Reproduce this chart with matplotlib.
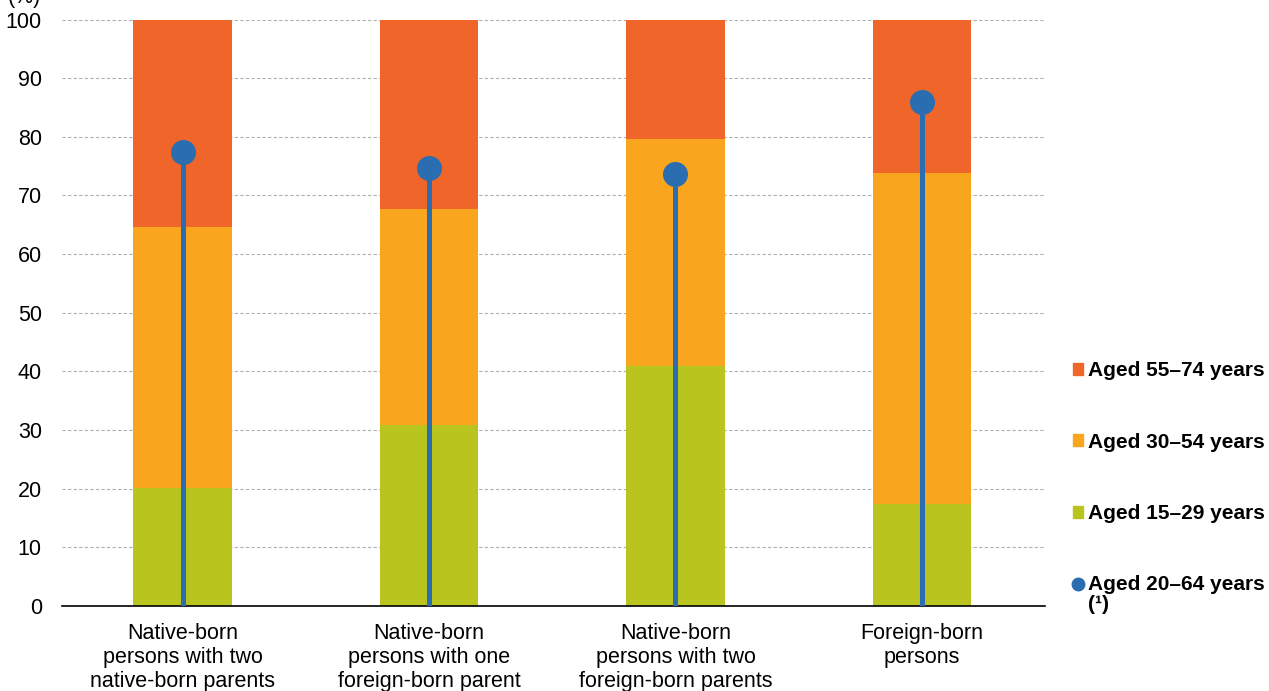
import numpy as np
import matplotlib.pyplot as plt
from matplotlib.patches import Patch
from matplotlib.lines import Line2D

plt.rcParams['font.family'] = ['Liberation Sans', 'DejaVu Sans']

groups = ['Native-born\npersons with two\nnative-born parents',
          'Native-born\npersons with one\nforeign-born parent',
          'Native-born\npersons with two\nforeign-born parents',
          'Foreign-born\npersons']
aged_15_29 = [20.2, 30.9, 40.9, 17.4]
aged_30_54 = [44.4, 36.8, 38.7, 56.4]
aged_55_74 = [35.4, 32.3, 20.4, 26.2]
aged_20_64 = [77.4, 74.7, 73.7, 86.0]

c_green = '#b9c41f'
c_yellow = '#f9a51e'
c_orange = '#f0662a'
c_blue = '#2a6db0'

fig = plt.figure(figsize=(12.69, 6.91), dpi=100)
ax = fig.add_axes([62/1269, 1-606/691, (1045-62)/1269, (606-19.5)/691])

x = np.arange(len(groups))
w = 0.4
b1 = np.array(aged_15_29)
b2 = b1 + np.array(aged_30_54)
ax.bar(x, aged_15_29, w, color=c_green, zorder=2)
ax.bar(x, aged_30_54, w, bottom=b1, color=c_yellow, zorder=2)
ax.bar(x, aged_55_74, w, bottom=b2, color=c_orange, zorder=2)

# stems with dots for the 20-64 age group
ax.vlines(x, 0, aged_20_64, color=c_blue, lw=3.6, zorder=3)
ax.plot(x, aged_20_64, 'o', color=c_blue, ms=17, zorder=4)

ax.set_xlim(-0.49, 3.5)
ax.set_ylim(0, 100)
ax.set_yticks(range(0, 101, 10))
ax.set_xticks(x)
ax.set_xticklabels(groups, fontsize=15.5, linespacing=1.2)
ax.tick_params(axis='both', length=0, labelsize=15.5)
ax.tick_params(axis='x', pad=12)
ax.tick_params(axis='y', pad=14.5)
for s in ['left', 'right', 'top']:
    ax.spines[s].set_visible(False)
ax.spines['bottom'].set_linewidth(1.2)
for v in range(10, 101, 10):
    ax.axhline(v, color='#b0b0b0', lw=0.8, ls=(0, (3, 2)), zorder=1)

fig.text(8/1269, 1-(-2)/691, '(%)', fontsize=15.5, va='center', ha='left')

handles = [Patch(color=c_orange), Patch(color=c_yellow), Patch(color=c_green),
           Line2D([], [], marker='o', ls='none', color=c_blue, ms=9)]
labels = ['Aged 55–74 years', 'Aged 30–54 years', 'Aged 15–29 years',
          'Aged 20–64 years']
leg = fig.legend(handles, labels, loc='upper left', bbox_to_anchor=(1073/1269, 1-361/691),
                 frameon=False, prop={'weight': 'bold', 'size': 15},
                 handlelength=0.5, handleheight=0.5, handletextpad=0.22,
                 labelspacing=2.52, borderpad=0, borderaxespad=0)
fig.text(1088/1269, 1-604/691, '(¹)', fontsize=15, fontweight='bold',
         va='center', ha='left')

fig.savefig('out.png', dpi=100)
